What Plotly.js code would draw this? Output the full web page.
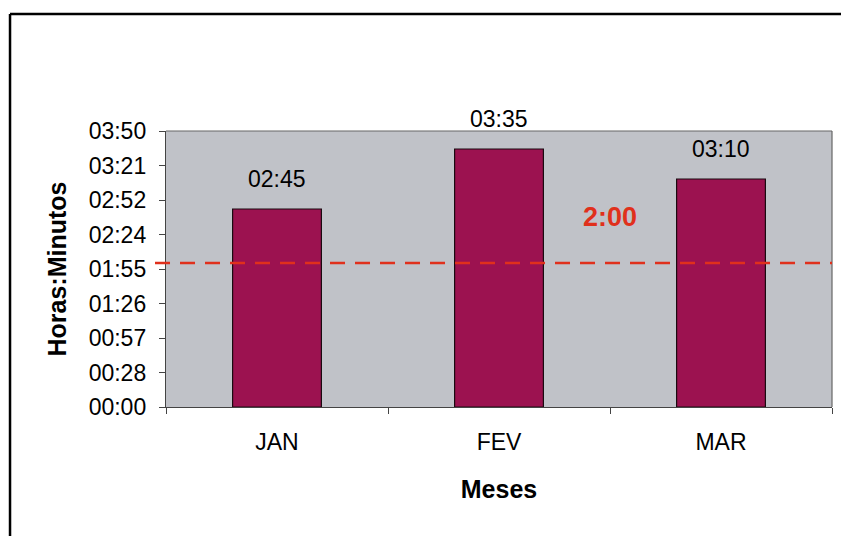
<!DOCTYPE html>
<html>
<head>
<meta charset="utf-8">
<script src="https://cdn.plot.ly/plotly-3.0.1.min.js"></script>
<style>
html,body{margin:0;padding:0;background:#fff;}
#chart{width:841px;height:536px;}
</style>
</head>
<body>
<div id="chart"></div>
<script>
// Data (minutes)
const months = ["JAN", "FEV", "MAR"];
const minutesValues = [165, 215, 190];
const valueLabels = ["02:45", "03:35", "03:10"];
const tickMinutes = [0, 28.75, 57.5, 86.25, 115, 143.75, 172.5, 201.25, 230];
const tickLabels = ["00:00", "00:28", "00:57", "01:26", "01:55", "02:24", "02:52", "03:21", "03:50"];
const targetMinutes = 120;
const targetLabel = "2:00";
const targetLabelPos = {x: 1.5, y: 158};

const font = "Arial, 'Liberation Sans', sans-serif";

const trace = {
  type: "bar",
  x: months,
  y: minutesValues,
  width: 0.4,
  marker: {color: "#9c1250", line: {color: "#1a0a10", width: 1.2}},
  hoverinfo: "skip"
};

const annotations = months.map((m, i) => ({
  x: m, y: minutesValues[i], xref: "x", yref: "y",
  text: valueLabels[i], showarrow: false,
  yanchor: "bottom", yshift: 15,
  font: {family: font, size: 23, color: "#000"}
}));
annotations.push({
  x: targetLabelPos.x, y: targetLabelPos.y, xref: "x", yref: "y",
  text: "<b>" + targetLabel + "</b>", showarrow: false,
  font: {family: font, size: 27, color: "#e0301c"}
});

const layout = {
  width: 841, height: 536,
  margin: {l: 166, r: 9, t: 131, b: 129},
  paper_bgcolor: "#ffffff",
  plot_bgcolor: "#c0c2c8",
  showlegend: false,
  xaxis: {
    type: "category",
    range: [-0.5, 2.5],
    showline: true, linecolor: "#444", linewidth: 1.2, mirror: false,
    ticks: "outside", tickson: "boundaries", ticklen: 6, tickcolor: "#444",
    ticklabelstandoff: 14,
    showgrid: false,
    tickfont: {family: font, size: 23, color: "#000"},
    title: {text: "<b>Meses</b>", font: {family: font, size: 25, color: "#000"}, standoff: 26}
  },
  yaxis: {
    range: [0, 230],
    tickvals: tickMinutes, ticktext: tickLabels,
    showline: true, linecolor: "#444", linewidth: 1.2,
    ticks: "outside", ticklen: 6, tickcolor: "#444",
    ticklabelstandoff: 8,
    showgrid: false, zeroline: false,
    tickfont: {family: font, size: 23, color: "#000"},
    title: {text: "<b>Horas:Minutos</b>", font: {family: font, size: 25, color: "#000"}, standoff: 14}
  },
  shapes: [
    {type: "line", xref: "paper", yref: "paper", x0: 0, x1: 1, y0: 1, y1: 1, line: {color: "#666", width: 1.2}},
    {type: "line", xref: "paper", yref: "paper", x0: 1, x1: 1, y0: 0, y1: 1, line: {color: "#666", width: 1.2}},
    {type: "line", xref: "paper", yref: "y", x0: -0.0165, x1: 1, y0: targetMinutes, y1: targetMinutes,
     line: {color: "#e0301c", width: 2.5, dash: "15px,10px"}},
    {type: "line", xref: "paper", yref: "paper", x0: -0.2342, x1: 1.02, y0: 1.4239, y1: 1.4239, line: {color: "#000", width: 2.5}},
    {type: "line", xref: "paper", yref: "paper", x0: -0.2342, x1: -0.2342, y0: 1.4239, y1: -0.47, line: {color: "#000", width: 2.5}}
  ],
  annotations: annotations
};

Plotly.newPlot("chart", [trace], layout, {displayModeBar: false, staticPlot: true});
</script>
</body>
</html>
